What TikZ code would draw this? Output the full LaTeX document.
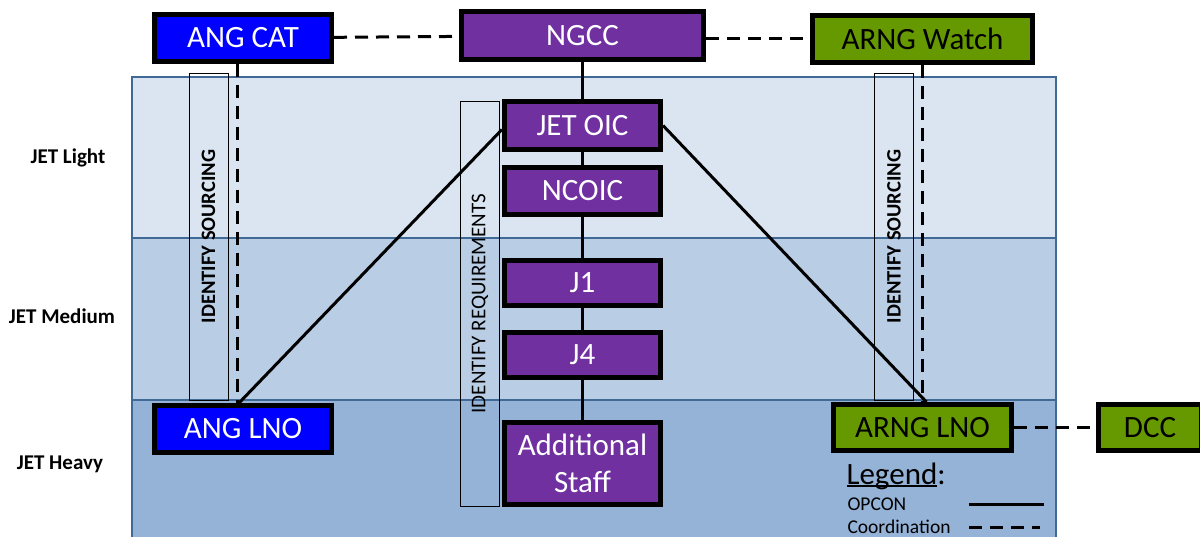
\documentclass[tikz,border=0pt]{standalone}
\usepackage{fontspec}
\setmainfont{Carlito}
\usepackage{tikz}
\usetikzlibrary{calc}
\definecolor{angblue}{RGB}{0,0,255}
\definecolor{ngpurple}{RGB}{112,48,160}
\definecolor{arnggreen}{RGB}{102,153,0}
\definecolor{lightband}{RGB}{219,229,241}
\definecolor{mediumband}{RGB}{185,205,229}
\definecolor{heavyband}{RGB}{149,179,215}
\definecolor{bandline}{RGB}{65,105,150}
\newcommand{\legendul}[1]{\setbox0\hbox{#1}\rlap{\rule[-2.5pt]{\wd0}{1.6pt}}#1}

\begin{document}
\begin{tikzpicture}[x=1pt,y=-1pt,
		lvl/.style={draw=bandline,line width=2pt},
		unit/.style={draw=black,line width=5pt,inner sep=0pt,align=center,font=\fontsize{31}{37}\selectfont,text=white},
		task/.style={draw=black,line width=0.8pt,rotate=90,inner sep=0pt,minimum height=39pt},
		opcon/.style={line width=3pt},
		coord/.style={line width=3pt,dash pattern=on 13pt off 8pt},
		tier/.style={font=\bfseries\fontsize{21}{24}\selectfont}]
			\clip (0,0) rectangle (1200,537);
			
			% JET levels
			\draw[lvl,fill=lightband] (132,77) rectangle (1056,238);
			\draw[lvl,fill=mediumband] (132,238) rectangle (1056,400);
			\draw[lvl,fill=heavyband] (132,400) rectangle (1056,560);
			\node[tier] (light)at(68,158) {JET Light};
			\node[tier] (medium)at(62,316) {JET Medium};
			\node[tier] (heavy)at(60,464) {JET Heavy};
			
			\node[task,minimum width=327pt,font=\bfseries\fontsize{20.5}{24}\selectfont] (srcl)at(208.5,236.5) {IDENTIFY SOURCING};
			\node[task,minimum width=327pt,font=\bfseries\fontsize{20.5}{24}\selectfont] (srcr)at(894,236.5) {IDENTIFY SOURCING};
			\node[task,minimum width=405pt,font=\fontsize{21}{24}\selectfont] (req)at(480,303.5) {IDENTIFY REQUIREMENTS};
			
			\node[unit,fill=angblue,minimum width=177pt,minimum height=47pt] (angcat)at(243,38) {ANG CAT};
			\node[unit,fill=ngpurple,minimum width=242pt,minimum height=48pt] (ngcc)at(582.5,35.5) {NGCC};
			\node[unit,fill=arnggreen,text=black,minimum width=220pt,minimum height=47pt] (watch)at(922.5,39) {ARNG Watch};
			\node[unit,fill=ngpurple,minimum width=156pt,minimum height=48pt] (jetoic)at(582.5,125.5) {JET OIC};
			\node[unit,fill=ngpurple,minimum width=156pt,minimum height=47pt] (ncoic)at(582.5,191) {NCOIC};
			\node[unit,fill=ngpurple,minimum width=156pt,minimum height=45pt] (j1)at(582.5,283) {J1};
			\node[unit,fill=ngpurple,minimum width=156pt,minimum height=45pt] (j4)at(582.5,355) {J4};
			\node[unit,fill=ngpurple,minimum width=156pt,minimum height=82pt] (staff)at(582.5,463.5) {Additional\\Staff};
			\node[unit,fill=angblue,minimum width=177pt,minimum height=47pt] (anglno)at(243,429) {ANG LNO};
			\node[unit,fill=arnggreen,text=black,minimum width=178pt,minimum height=46pt] (arnglno)at(922.5,427.5) {ARNG LNO};
			\node[unit,fill=arnggreen,text=black,minimum width=103pt,minimum height=46pt] (dcc)at(1150,427.5) {DCC};
			
			\draw[opcon] (ngcc) -- (jetoic);
			\draw[opcon] (jetoic) -- (ncoic);
			\draw[opcon] (ncoic) -- (j1);
			\draw[opcon] (j1) -- (j4);
			\draw[opcon] (j4) -- (staff);
			\draw[opcon] ([yshift=-4pt]jetoic.west) -- ([xshift=-4pt]anglno.north);
			\draw[opcon] (jetoic.east) -- ([xshift=4pt]arnglno.north);
			
			\draw[coord] (angcat) -- (ngcc);
			\draw[coord] (ngcc.east |- watch) -- (watch);
			\draw[coord] ([xshift=-6pt]angcat.south) -- ([xshift=-6pt]anglno.north);
			\draw[coord] (watch.south) -- (arnglno.north);
			\draw[coord] (arnglno) -- (dcc);
			
			% legend
			\node[anchor=base west,font=\fontsize{31}{33}\selectfont] (legend)at(843,484) {\legendul{Legend}:};
			\node[anchor=base west,font=\fontsize{19.5}{22}\selectfont] (opconlbl)at(844,510) {OPCON};
			\node[anchor=base west,font=\fontsize{19.5}{22}\selectfont] (coordlbl)at(844,533) {Coordination};
			\coordinate (opconA) at (969,504);
			\coordinate (opconB) at (1044,504);
			\coordinate (coordA) at (969,527);
			\coordinate (coordB) at (1040,527);
			\draw[opcon] (opconA) -- (opconB);
			\draw[coord] (coordA) -- (coordB);
		\end{tikzpicture}
\end{document}
